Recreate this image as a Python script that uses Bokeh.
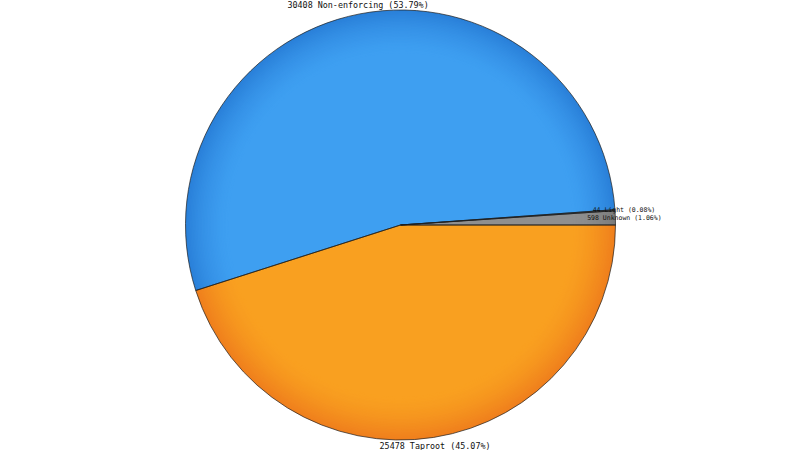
import numpy as np
from bokeh.plotting import figure
from bokeh.models import Range1d, ColumnDataSource
from bokeh.core.properties import value
from bokeh.embed import file_html
from bokeh.resources import INLINE

# ---- data ----
names = ["Unknown", "Light", "Non-enforcing", "Taproot"]
counts = [598, 44, 30408, 25478]
percents = ["1.06%", "0.08%", "53.79%", "45.07%"]

# ---- style ----
inner_colors = ["#8f8f8f", "#8f8f8f", "#3e9ff1", "#f9a020"]
rim_colors = ["#7c7c7c", "#7c7c7c", "#2a80d9", "#ef7f1d"]

W, H = 800, 450
cx, cy = 400.0, H - 224.5
R = 215.0
R_LABEL = R + 9.0

counts_arr = np.array(counts, dtype=float)
frac = counts_arr / counts_arr.sum()
ends = np.cumsum(frac) * 2 * np.pi
starts = np.concatenate([[0.0], ends[:-1]])

p = figure(width=W, height=H, x_range=Range1d(0, W), y_range=Range1d(0, H),
           output_backend="svg", toolbar_location=None, min_border=0,
           background_fill_color="white", border_fill_color="white")
p.axis.visible = False
p.grid.visible = False
p.outline_line_color = None


def hex2rgb(h):
    h = h.lstrip("#")
    return np.array([int(h[i:i + 2], 16) for i in (0, 2, 4)], dtype=float)


def rgb2hex(c):
    c = np.clip(np.round(c), 0, 255).astype(int)
    return "#%02x%02x%02x" % tuple(c)


# radial shading: concentric wedges from rim (dark) to inner (flat)
n_rings = 30
r0 = 0.80 * R
radii = np.linspace(R, r0, n_rings)
rows = dict(x=[], y=[], r=[], s=[], e=[], c=[])
for r in radii:
    t = (r - r0) / (R - r0)
    w = t ** 1.6
    for i in range(len(counts)):
        ci = hex2rgb(inner_colors[i])
        co = hex2rgb(rim_colors[i])
        rows["x"].append(cx)
        rows["y"].append(cy)
        rows["r"].append(r)
        rows["s"].append(starts[i])
        rows["e"].append(ends[i])
        rows["c"].append(rgb2hex(ci + (co - ci) * w))
src = ColumnDataSource(rows)
p.wedge(x="x", y="y", radius="r", start_angle="s", end_angle="e",
        fill_color="c", line_color=None, source=src)

# outlines of slices
osrc = ColumnDataSource(dict(x=[cx] * len(counts), y=[cy] * len(counts),
                             s=list(starts), e=list(ends)))
p.wedge(x="x", y="y", radius=R, start_angle="s", end_angle="e",
        fill_alpha=0, line_color="#1e1e1e", line_width=0.7, source=osrc)

# labels
mids = (starts + ends) / 2
lx = cx + R_LABEL * np.cos(mids)
ly = cy + R_LABEL * np.sin(mids)
texts = [f"{c} {n} ({pc})" for c, n, pc in zip(counts, names, percents)]
big = [i for i in range(len(counts)) if frac[i] > 0.05]
small = [i for i in range(len(counts)) if frac[i] <= 0.05]
for idx, fs in ((big, "8.4px"), (small, "6.5px")):
    tsrc = ColumnDataSource(dict(x=lx[idx], y=ly[idx], t=[texts[i] for i in idx]))
    p.text(x="x", y="y", text="t", source=tsrc, text_align="center",
           text_baseline="middle", text_font=value("DejaVu Sans Mono"),
           text_font_size=fs, text_color="#111111")

open("out.html", "w").write(file_html(p, INLINE))
